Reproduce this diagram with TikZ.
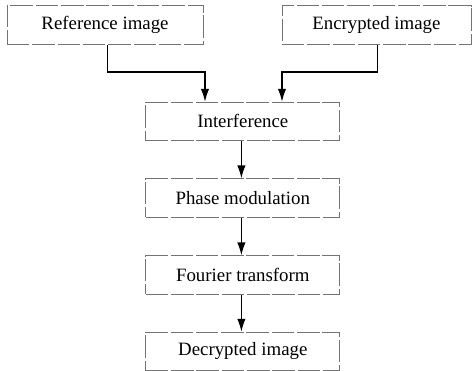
\documentclass[tikz,border=0pt]{standalone}
\usepackage{fontspec}
\setmainfont{Liberation Serif}
\usetikzlibrary{arrows.meta}
\begin{document}
\begin{tikzpicture}[
    stage/.style={draw=black!55, line width=0.5pt, dash pattern=on 16pt off 2pt,
      minimum height=0.97cm, inner sep=0pt, font=\fontsize{13.4}{16}\selectfont},
    flow/.style={-{Latex[length=3.2mm,width=2.1mm]}, line width=0.85pt}]
          \useasboundingbox (0,0) rectangle (11.825,9.275);

          \node[stage, minimum width=4.9cm]   (ref)  at (2.625,8.65)  {Reference image};
          \node[stage, minimum width=4.725cm] (enc)  at (9.41,8.65)   {Encrypted image};
          \node[stage, minimum width=4.85cm]  (intf) at (6.07,6.24)   {Interference};
          \node[stage, minimum width=4.85cm]  (phs)  at (6.07,4.325)  {Phase modulation};
          \node[stage, minimum width=4.85cm]  (fou)  at (6.07,2.4)    {Fourier transform};
          \node[stage, minimum width=4.85cm]  (dec)  at (6.07,0.49)   {Decrypted image};

          \coordinate (kl) at (5.125,7.475);
          \coordinate (kr) at (7.05,7.475);

          \draw[flow] ([xshift=1.5pt]ref.south) |- (kl) -- (kl |- intf.north);
          \draw[flow] ([xshift=1pt]enc.south) |- (kr) -- (kr |- intf.north);
          \draw[flow] ([xshift=-1pt]intf.south) -- ([xshift=-1pt]phs.north);
          \draw[flow] ([xshift=-1pt]phs.south) -- ([xshift=-1pt]fou.north);
          \draw[flow] ([xshift=-1pt]fou.south) -- ([xshift=-1pt]dec.north);
      \end{tikzpicture}
\end{document}
